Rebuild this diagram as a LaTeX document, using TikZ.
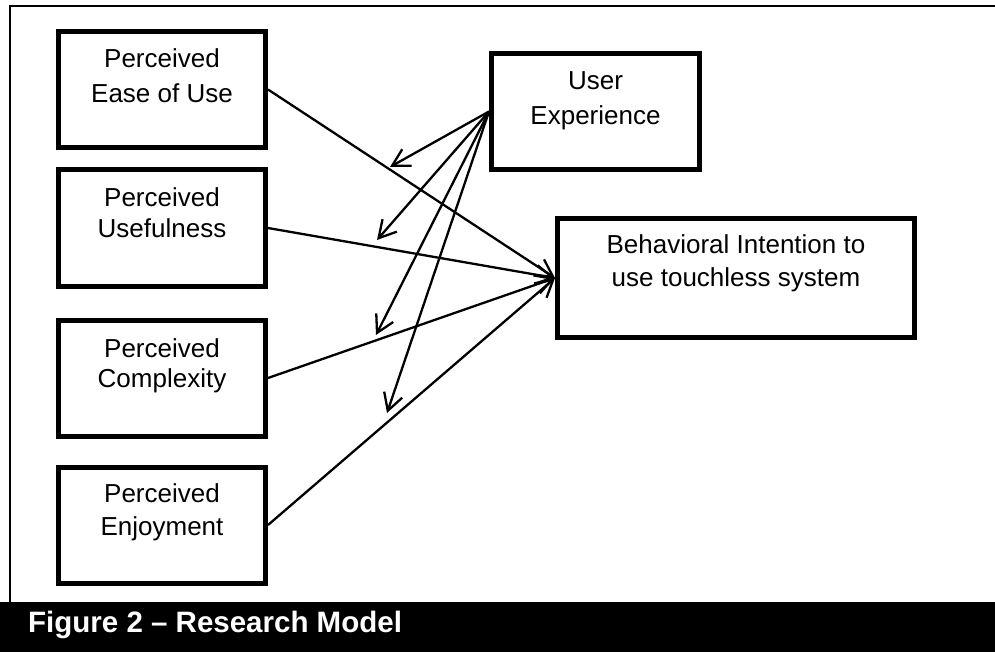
\documentclass[tikz,border=0pt]{standalone}
\usepackage{fontspec}
\setmainfont{Liberation Sans}
\usetikzlibrary{arrows.meta}
\begin{document}
\begin{tikzpicture}[x=1pt,y=-1pt,
  box/.style={draw=black, line width=5pt, fill=white, inner sep=0pt,
              minimum width=207pt, minimum height=116pt},
  boxtext/.style={anchor=base, inner sep=0pt, font=\fontsize{26pt}{31pt}\selectfont},
  link/.style={line width=2.3pt, -{Straight Barb[length=17pt,width=19pt,line width=2.3pt]}},
  frameline/.style={line width=2pt, line cap=rect},
  caption/.style={anchor=base west, inner sep=0pt, text=white,
                  font=\bfseries\fontsize{29.5pt}{34pt}\selectfont}]
\useasboundingbox (0,0) rectangle (995,652);
\fill[white] (0,0) rectangle (995,652);

% outer frame and caption bar
\draw[frameline] (10,602) -- (10,6) -- (995,6);
\fill[black] (0,601.5) rectangle (995,652);
\node[caption] (cap) at (28,632) {Figure 2 – Research Model};

% construct boxes
\node[box] (peou) at (162,89.5) {};
\node[box] (pu)   at (162,228)  {};
\node[box] (pc)   at (162,378)  {};
\node[box] (pe)   at (162,525)  {};
\node[box, minimum width=208pt] (ux) at (595.5,111.5) {};
\node[box, minimum width=357pt, minimum height=119pt] (bi) at (736,278) {};

% box labels
\node[boxtext] (peoua) at (162,68)  {Perceived};
\node[boxtext] (peoub) at (162,103) {Ease of Use};
\node[boxtext] (pua)   at (162,207) {Perceived};
\node[boxtext] (pub)   at (162,237) {Usefulness};
\node[boxtext] (pca)   at (162,357) {Perceived};
\node[boxtext] (pcb)   at (162,387) {Complexity};
\node[boxtext] (pea)   at (162,502) {Perceived};
\node[boxtext] (peb)   at (162,535) {Enjoyment};
\node[boxtext] (uxa)   at (595.5,90)  {User};
\node[boxtext] (uxb)   at (595.5,125) {Experience};
\node[boxtext] (bia)   at (736,254) {Behavioral Intention to};
\node[boxtext] (bib)   at (736,286) {use touchless system};

% direct effects on behavioural intention
\draw[link] (peou.east) -- (bi.west);
\draw[link] (pu.east)   -- (bi.west);
\draw[link] (pc.east)   -- (bi.west);
\draw[link] (pe.east)   -- (bi.west);

% moderating effects of user experience
\coordinate (m1) at (390,167);
\coordinate (m2) at (377,240);
\coordinate (m3) at (376,335);
\coordinate (m4) at (387,413);
\draw[link] (ux.west) -- (m1);
\draw[link] (ux.west) -- (m2);
\draw[link] (ux.west) -- (m3);
\draw[link] (ux.west) -- (m4);
\end{tikzpicture}
\end{document}
